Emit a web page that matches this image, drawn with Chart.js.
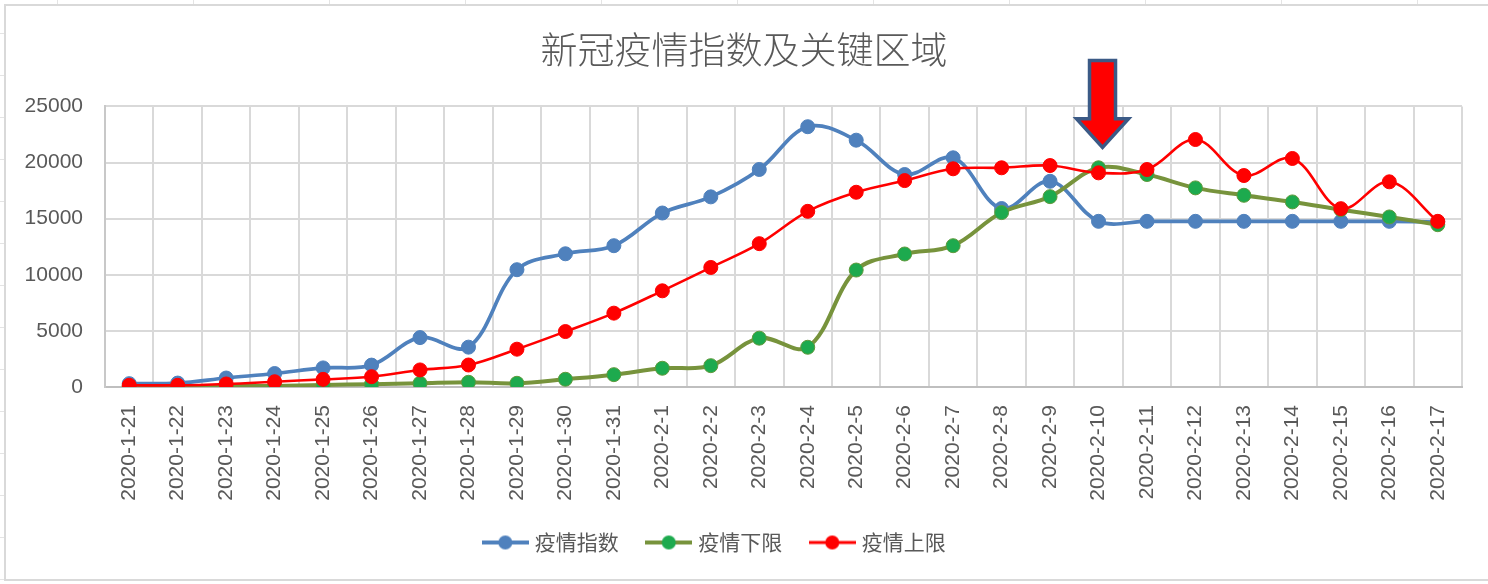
<!DOCTYPE html>
<html>
<head>
<meta charset="utf-8">
<script src="https://cdn.jsdelivr.net/npm/chart.js@4.4.1/dist/chart.umd.min.js"></script>
<style>
  html, body { margin: 0; padding: 0; background: #ffffff; }
  #wrap { position: relative; width: 1488px; height: 584px; }
  canvas { display: block; }
</style>
</head>
<body>
<div id="wrap"><canvas id="c" width="1488" height="584"></canvas></div>
<script>
// ---- data ----
const categories = [
  '2020-1-21','2020-1-22','2020-1-23','2020-1-24','2020-1-25','2020-1-26','2020-1-27',
  '2020-1-28','2020-1-29','2020-1-30','2020-1-31','2020-2-1','2020-2-2','2020-2-3',
  '2020-2-4','2020-2-5','2020-2-6','2020-2-7','2020-2-8','2020-2-9','2020-2-10',
  '2020-2-11','2020-2-12','2020-2-13','2020-2-14','2020-2-15','2020-2-16','2020-2-17'
];
const indexValues = [
  300, 350, 800, 1200, 1700, 1950, 4400, 3550, 10450, 11870, 12590,
  15500, 16940, 19380, 23190, 21990, 18930, 20420, 15900, 18330,
  14760, 14760, 14760, 14760, 14760, 14760, 14760, 14700
];
const lowerValues = [
  50, 50, 80, 100, 180, 250, 330, 420, 330, 690, 1100,
  1670, 1900, 4350, 3540, 10420, 11850, 12590, 15540, 16960,
  19530, 18930, 17740, 17080, 16490, 15800, 15150, 14460
];
const upperValues = [
  150, 150, 270, 470, 680, 920, 1520, 1960, 3370, 4940, 6580,
  8570, 10650, 12770, 15650, 17350, 18390, 19440, 19530, 19730,
  19080, 19375, 22050, 18840, 20360, 15890, 18280, 14760
];
const seriesNames = ['疫情指数', '疫情下限', '疫情上限'];
const yTicks = [0, 5000, 10000, 15000, 20000, 25000];
const titleText = '新冠疫情指数及关键区域';
// arrow marker: category index and values (tip / head start / top)
const arrowCategory = 20;
const arrowValues = { tip: 21350, head: 23900, top: 29100 };

// ---- styles ----
const CJK = '"Noto Sans CJK SC", "Noto Sans", sans-serif';
const LAT = '"Liberation Sans", Arial, sans-serif';
const textColor = '#595959';

function legendIcon(lineColor, lineW, dotColor) {
  const cv = document.createElement('canvas');
  cv.width = 47; cv.height = 16;
  const g = cv.getContext('2d');
  g.strokeStyle = lineColor; g.lineWidth = lineW; g.lineCap = 'butt';
  g.beginPath(); g.moveTo(0, 8); g.lineTo(47, 8); g.stroke();
  g.fillStyle = dotColor;
  g.beginPath(); g.arc(23.5, 8, 7, 0, Math.PI * 2); g.fill();
  return cv;
}
const icons = [
  legendIcon('#4F81BD', 4, '#4F81BD'),
  legendIcon('#77933C', 4, '#1DAA4E'),
  legendIcon('#FF0000', 3, '#FF0000')
];

const framePlugin = {
  id: 'frame',
  beforeDraw(chart) {
    const g = chart.ctx;
    g.save();
    g.fillStyle = '#ffffff';
    g.fillRect(0, 0, chart.width, chart.height);
    g.strokeStyle = '#E4E4E4'; g.lineWidth = 1;
    for (let x = 57; x < chart.width; x += 136) { g.beginPath(); g.moveTo(x + 0.5, 0); g.lineTo(x + 0.5, 5); g.stroke(); }
    for (let y = 33; y < chart.height; y += 42) { g.beginPath(); g.moveTo(0, y + 0.5); g.lineTo(5, y + 0.5); g.stroke(); }
    g.strokeStyle = '#D9D9D9'; g.lineWidth = 2;
    g.strokeRect(5, 5, chart.width + 10, 575);
    g.restore();
  }
};

// Excel places this legend a little left of centre
const legendShiftPlugin = {
  id: 'legendShift',
  afterLayout(chart) {
    const lg = chart.legend;
    if (lg) { lg.left -= 28; lg.right -= 28; }
  }
};

const arrowPlugin = {
  id: 'arrow',
  afterDatasetsDraw(chart) {
    const xs = chart.scales.x, ys = chart.scales.y;
    const cx = xs.getPixelForValue(arrowCategory) + 4;
    const tip = ys.getPixelForValue(arrowValues.tip);
    const head = ys.getPixelForValue(arrowValues.head);
    const top = ys.getPixelForValue(arrowValues.top);
    const g = chart.ctx;
    g.save();
    g.beginPath();
    g.moveTo(cx - 13, top);
    g.lineTo(cx + 13, top);
    g.lineTo(cx + 13, head);
    g.lineTo(cx + 26, head);
    g.lineTo(cx, tip);
    g.lineTo(cx - 26, head);
    g.lineTo(cx - 13, head);
    g.closePath();
    g.fillStyle = '#FF0000';
    g.fill();
    g.lineJoin = 'miter';
    g.strokeStyle = '#3B5A86';
    g.lineWidth = 3.5;
    g.stroke();
    g.restore();
  }
};

new Chart(document.getElementById('c'), {
  type: 'line',
  data: {
    labels: categories,
    datasets: [
      {
        label: seriesNames[0], data: indexValues, order: 2,
        borderColor: '#4F81BD', borderWidth: 3.7,
        pointBackgroundColor: '#4F81BD', pointBorderColor: '#4F81BD', pointBorderWidth: 1,
        pointRadius: 7, tension: 0.36
      },
      {
        label: seriesNames[1], data: lowerValues, order: 1,
        borderColor: '#77933C', borderWidth: 4,
        pointBackgroundColor: '#1DAA4E', pointBorderColor: '#5F9A3C', pointBorderWidth: 1,
        pointRadius: 7, tension: 0.36
      },
      {
        label: seriesNames[2], data: upperValues, order: 0,
        borderColor: '#FF0000', borderWidth: 2.6,
        pointBackgroundColor: '#FF0000', pointBorderColor: '#FF0000', pointBorderWidth: 1,
        pointRadius: 7, tension: 0.36
      }
    ]
  },
  options: {
    responsive: false,
    animation: false,
    events: [],
    layout: { padding: { left: 0, right: 0, top: 0, bottom: 21 } },
    plugins: {
      title: {
        display: true, text: titleText, color: textColor,
        font: { family: CJK, size: 37, weight: 300 },
        padding: { top: 28, bottom: 34 }
      },
      legend: {
        position: 'bottom',
        labels: {
          usePointStyle: true, pointStyleWidth: 38, boxHeight: 16,
          padding: 31, color: textColor,
          font: { family: CJK, size: 21 },
          sort: (a, b) => a.datasetIndex - b.datasetIndex,
          generateLabels(chart) {
            const items = Chart.defaults.plugins.legend.labels.generateLabels(chart);
            items.forEach(it => { it.pointStyle = icons[it.datasetIndex]; it.fontColor = textColor; });
            return items;
          }
        }
      },
      tooltip: { enabled: false }
    },
    scales: {
      x: {
        offset: true,
        grid: { offset: true, color: '#D9D9D9', lineWidth: 2, drawTicks: false },
        border: { color: '#BFBFBF', width: 2 },
        ticks: {
          autoSkip: false, maxRotation: 90, minRotation: 90, padding: 18,
          color: textColor, font: { family: LAT, size: 21 }
        },
        afterFit(scale) { scale.height = 114; }
      },
      y: {
        min: 0, max: 25000,
        afterBuildTicks(scale) { scale.ticks = yTicks.map(v => ({ value: v })); },
        grid: { color: '#D9D9D9', lineWidth: 2, drawTicks: false },
        border: { color: '#C8C8C8', width: 2 },
        ticks: {
          padding: 22, color: textColor, font: { family: LAT, size: 21 },
          callback: v => String(v)
        },
        afterFit(scale) { scale.width = 105; }
      },
      yRightMargin: {
        type: 'linear', position: 'right', display: true,
        grid: { display: false, drawTicks: false },
        border: { display: false },
        ticks: { display: false },
        afterFit(scale) { scale.width = 26; }
      }
    }
  },
  plugins: [framePlugin, legendShiftPlugin, arrowPlugin]
});
</script>
</body>
</html>
